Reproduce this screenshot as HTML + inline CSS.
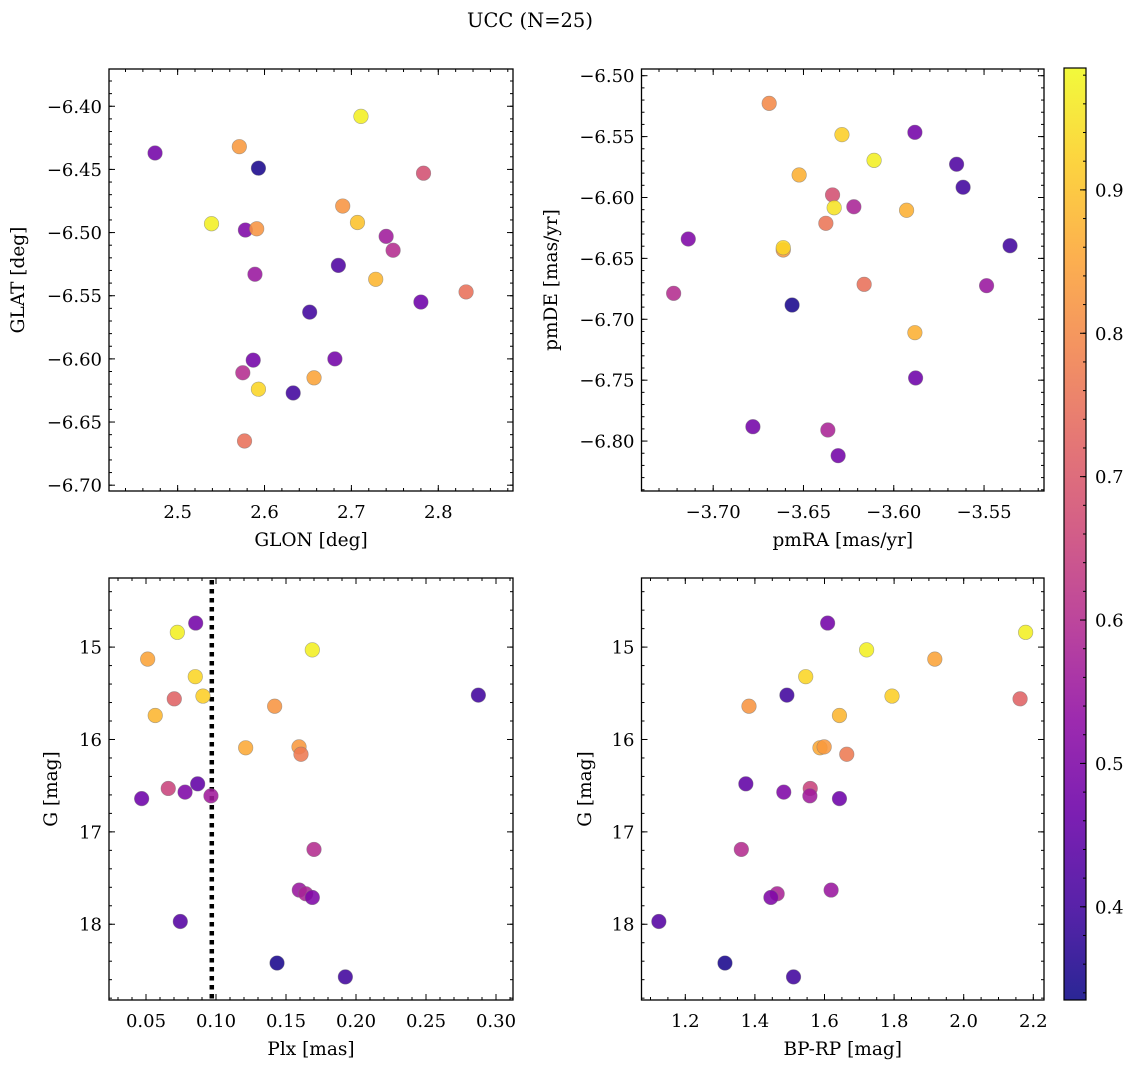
<!DOCTYPE html>
<html><head><meta charset="utf-8"><style>
html,body{margin:0;padding:0;background:#fff;}
svg{display:block;font-family:"DejaVu Serif","Liberation Serif",serif;}
</style></head><body>
<svg id="fig" width="1136" height="1067" viewBox="0 0 1136 1067" xmlns="http://www.w3.org/2000/svg">
<text x="530" y="27" font-size="19.5" text-anchor="middle">UCC (N=25)</text>
</svg>
<script>
// Panel 1: GLON / GLAT
const glon = [2.474,2.571,2.593,2.711,2.783,2.690,2.707,2.539,2.578,2.591,2.740,2.748,2.685,2.589,2.728,2.832,2.780,2.652,2.587,2.681,2.575,2.657,2.593,2.633,2.577];
const glat = [-6.437,-6.432,-6.449,-6.408,-6.453,-6.479,-6.492,-6.493,-6.498,-6.497,-6.503,-6.514,-6.526,-6.533,-6.537,-6.547,-6.555,-6.563,-6.601,-6.600,-6.611,-6.615,-6.624,-6.627,-6.665];
const prob1 = [0.48,0.83,0.35,0.97,0.68,0.82,0.90,0.97,0.50,0.82,0.56,0.60,0.42,0.55,0.88,0.75,0.47,0.40,0.48,0.48,0.60,0.85,0.93,0.40,0.75];
// Panel 2: pmRA / pmDE
const pmra = [-3.669,-3.6287,-3.5883,-3.6109,-3.5652,-3.6524,-3.5616,-3.6339,-3.633,-3.6221,-3.5929,-3.6376,-3.7138,-3.6612,-3.6612,-3.5356,-3.7219,-3.6164,-3.5486,-3.6563,-3.5883,-3.5879,-3.678,-3.6365,-3.6308];
const pmde = [-6.5227,-6.5484,-6.5465,-6.5695,-6.5727,-6.5815,-6.5916,-6.5979,-6.6084,-6.6076,-6.6105,-6.6212,-6.6341,-6.6431,-6.6412,-6.6396,-6.6787,-6.6713,-6.6724,-6.6883,-6.711,-6.7482,-6.7882,-6.7909,-6.812];
const prob2 = [0.80,0.92,0.48,0.97,0.42,0.87,0.40,0.68,0.95,0.58,0.87,0.76,0.50,0.83,0.93,0.40,0.60,0.75,0.55,0.35,0.87,0.47,0.48,0.58,0.48];
// Panels 3 & 4: Plx, G, BP-RP
const plx = [0.0855,0.0724,0.1688,0.0512,0.0852,0.0702,0.0907,0.2874,0.1419,0.0566,0.1212,0.1593,0.1607,0.0659,0.0869,0.0779,0.0964,0.0469,0.1700,0.1595,0.1641,0.1688,0.0745,0.1436,0.1924];
const gmag = [14.74,14.84,15.03,15.13,15.32,15.56,15.53,15.52,15.64,15.74,16.09,16.08,16.16,16.53,16.48,16.57,16.61,16.64,17.19,17.63,17.67,17.71,17.97,18.42,18.57];
const bprp = [1.609,2.178,1.721,1.917,1.546,2.162,1.794,1.492,1.383,1.643,1.587,1.599,1.664,1.559,1.374,1.483,1.558,1.643,1.361,1.619,1.464,1.446,1.124,1.314,1.511];
const prob3 = [0.48,0.97,0.97,0.85,0.93,0.72,0.92,0.40,0.82,0.88,0.86,0.83,0.77,0.65,0.45,0.50,0.56,0.47,0.60,0.55,0.58,0.50,0.43,0.35,0.40];
const plxThreshold = 0.097;
const cbTicks = [0.4,0.5,0.6,0.7,0.8,0.9];
const cbMin = 0.335, cbMax = 0.985;

const NS = "http://www.w3.org/2000/svg";
const fig = document.getElementById('fig');
function mk(tag, attrs, parent){const e=document.createElementNS(NS,tag);for(const k in attrs)e.setAttribute(k,attrs[k]);(parent||fig).appendChild(e);return e;}

const plasma = ["#0d0887","#41049d","#6a00a8","#8f0da4","#b12a90","#cc4778","#e16462","#f2844b","#fca636","#fcce25","#f0f921"];
function hex(h){return [1,3,5].map(i=>parseInt(h.substr(i,2),16));}
function cmap(v){
  let t=(v-cbMin)/(cbMax-cbMin);t=Math.max(0,Math.min(1,t));
  const f=t*10,i=Math.min(9,Math.floor(f)),r=f-i;
  const a=hex(plasma[i]),b=hex(plasma[i+1]);
  return "rgb("+a.map((x,k)=>Math.round(x+(b[k]-x)*r)).join(",")+")";
}
function fmtMinus(s){return s.replace('-','\u2212');}
const TF=18, AF=18.5;

function panel(o){
  const g=mk('g',{});
  
  
  const sx=v=>o.L+(v-o.x0)/(o.x1-o.x0)*(o.R-o.L);
  const sy=v=>o.T+(v-o.y0)/(o.y1-o.y0)*(o.B-o.T);
  const tg=mk('g',{stroke:'#000','stroke-width':1},g);
  function tickRange(a,b,step,fn){const lo=Math.min(a,b),hi=Math.max(a,b);for(let k=Math.ceil(lo/step-1e-6);k*step<=hi+1e-9;k++)fn(+(k*step).toFixed(6));}
  tickRange(o.x0,o.x1,o.xmin,v=>{const x=sx(v);mk('line',{x1:x,x2:x,y1:o.B,y2:o.B-3},tg);mk('line',{x1:x,x2:x,y1:o.T,y2:o.T+3},tg);});
  tickRange(o.y0,o.y1,o.ymin,v=>{const y=sy(v);mk('line',{x1:o.L,x2:o.L+3,y1:y,y2:y},tg);mk('line',{x1:o.R,x2:o.R-3,y1:y,y2:y},tg);});
  o.xticks.forEach(v=>{const x=sx(v);mk('line',{x1:x,x2:x,y1:o.B,y2:o.B-6},tg);mk('line',{x1:x,x2:x,y1:o.T,y2:o.T+6},tg);
    const t=mk('text',{x:x,y:o.B+27,'font-size':TF,'text-anchor':'middle'},g);t.textContent=fmtMinus(v.toFixed(o.xd));
    
    });
  o.yticks.forEach(v=>{const y=sy(v);mk('line',{x1:o.L,x2:o.L+6,y1:y,y2:y},tg);mk('line',{x1:o.R,x2:o.R-6,y1:y,y2:y},tg);
    const t=mk('text',{x:o.L-7,y:y+6.5,'font-size':TF,'text-anchor':'end'},g);t.textContent=fmtMinus(v.toFixed(o.yd));
    
    });
  const xl=mk('text',{x:(o.L+o.R)/2,y:o.B+55,'font-size':AF,'text-anchor':'middle'},g);xl.textContent=o.xlabel;
  
  
  const yx=o.ylx,yy=(o.T+o.B)/2;
  const yl=mk('text',{x:yx,y:yy,'font-size':AF,'text-anchor':'middle',transform:`rotate(-90 ${yx} ${yy})`},g);yl.textContent=o.ylabel;
  
  
  if(o.vline!==undefined){const x=sx(o.vline);const l=mk('line',{x1:x,x2:x,y1:o.T+2,y2:o.B,stroke:'#000','stroke-width':4.5,'stroke-dasharray':'4.5 4.5'},g);
    
    }
  o.xs.forEach((xv,i)=>{const c=mk('circle',{cx:sx(xv),cy:sy(o.ys[i]),r:7.3,fill:cmap(o.ps[i]),'fill-opacity':0.88,stroke:'#777','stroke-opacity':0.6,'stroke-width':0.6},g);
    
    });
  mk('rect',{x:o.L,y:o.T,width:o.R-o.L,height:o.B-o.T,fill:'none',stroke:'#000','stroke-width':1.3},g);
}

panel({name:'glon-glat-panel',L:109,R:513,T:69,B:491,x0:2.421,x1:2.886,y0:-6.3705,y1:-6.7046,
  xticks:[2.5,2.6,2.7,2.8],xd:1,xmin:0.02,yticks:[-6.40,-6.45,-6.50,-6.55,-6.60,-6.65,-6.70],yd:2,ymin:0.01,
  xlabel:'GLON [deg]',ylabel:'GLAT [deg]',ylx:24,xs:glon,ys:glat,ps:prob1});
panel({name:'pm-panel',L:641.5,R:1044,T:69,B:491,x0:-3.7397,x1:-3.5168,y0:-6.4945,y1:-6.841,
  xticks:[-3.70,-3.65,-3.60,-3.55],xd:2,xmin:0.01,yticks:[-6.50,-6.55,-6.60,-6.65,-6.70,-6.75,-6.80],yd:2,ymin:0.01,
  xlabel:'pmRA [mas/yr]',ylabel:'pmDE [mas/yr]',ylx:557,xs:pmra,ys:pmde,ps:prob2});
panel({name:'plx-g-panel',L:109,R:513,T:578,B:1000,x0:0.05-37/1400,x1:0.05+367/1400,y0:14.252,y1:18.82,
  xticks:[0.05,0.10,0.15,0.20,0.25,0.30],xd:2,xmin:0.01,yticks:[15,16,17,18],yd:0,ymin:0.2,
  xlabel:'Plx [mas]',ylabel:'G [mag]',ylx:57,xs:plx,ys:gmag,ps:prob3,vline:plxThreshold});
panel({name:'cmd-panel',L:641.5,R:1044,T:578,B:1000,x0:1.2-43.8/348,x1:1.2+358.7/348,y0:14.252,y1:18.82,
  xticks:[1.2,1.4,1.6,1.8,2.0,2.2],xd:1,xmin:0.05,yticks:[15,16,17,18],yd:0,ymin:0.2,
  xlabel:'BP-RP [mag]',ylabel:'G [mag]',ylx:591,xs:bprp,ys:gmag,ps:prob3});

// Colorbar
(function(){
  const L=1064,R=1086,T=68,B=1000;
  const g=mk('g',{});
  
  
  const defs=mk('defs',{},g);
  const lg=mk('linearGradient',{id:'pg',x1:0,y1:1,x2:0,y2:0},defs);
  plasma.forEach((c,i)=>mk('stop',{offset:i/10,'stop-color':c},lg));
  mk('rect',{x:L,y:T,width:R-L,height:B-T,fill:'url(#pg)','fill-opacity':0.88},g);
  const sy=v=>B-(v-cbMin)/(cbMax-cbMin)*(B-T);
  for(let k=Math.ceil(cbMin/0.02);k*0.02<=cbMax;k++){const y=sy(k*0.02);mk('line',{x1:R,x2:R-3,y1:y,y2:y,stroke:'#000'},g);}
  cbTicks.forEach(v=>{const y=sy(v);mk('line',{x1:R,x2:R-6,y1:y,y2:y,stroke:'#000'},g);
    const t=mk('text',{x:R+9,y:y+6.5,'font-size':TF},g);t.textContent=v.toFixed(1);
    
    });
  mk('rect',{x:L,y:T,width:R-L,height:B-T,fill:'none',stroke:'#000','stroke-width':1.2},g);
})();
</script>
</body></html>
